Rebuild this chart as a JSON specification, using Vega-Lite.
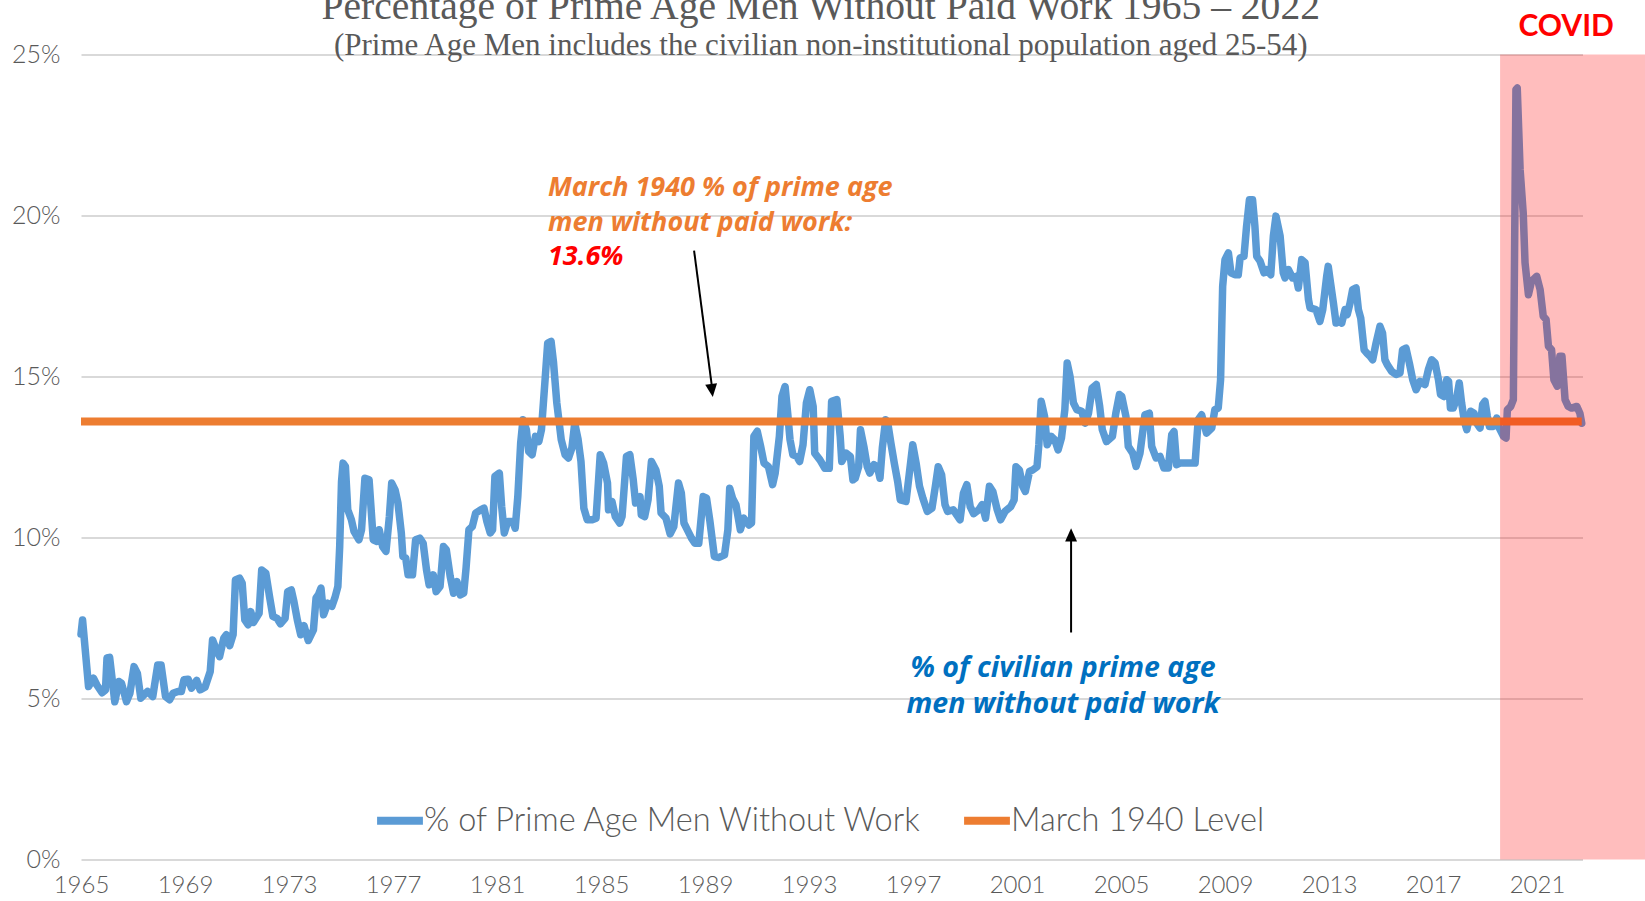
{
  "$schema": "https://vega.github.io/schema/vega-lite/v6.json",
  "width": 1501.5,
  "height": 805,
  "autosize": {"type": "none"},
  "padding": {"left": 81, "top": 54.5, "right": 62.5, "bottom": 41.5},
  "background": "white",
  "title": {
    "text": "Percentage of Prime Age Men Without Paid Work 1965 – 2022",
    "subtitle": "(Prime Age Men includes the civilian non-institutional population aged 25-54)",
    "anchor": "middle",
    "frame": "group",
    "dx": -11,
    "offset": -50,
    "font": "Liberation Serif",
    "fontSize": 39.6,
    "fontWeight": "normal",
    "color": "#595959",
    "subtitleFont": "Liberation Serif",
    "subtitleFontSize": 31,
    "subtitleColor": "#595959",
    "subtitlePadding": 3
  },
  "datasets": {
    "work": [
      {"t":1965.0,"v":7.0},{"t":1965.06,"v":7.44},{"t":1965.29,"v":5.37},{"t":1965.48,"v":5.63},{"t":1965.61,"v":5.42},{"t":1965.81,"v":5.18},{"t":1965.94,"v":5.26},{"t":1966.0,"v":6.26},{"t":1966.1,"v":6.28},{"t":1966.3,"v":4.9},{"t":1966.46,"v":5.53},{"t":1966.56,"v":5.47},{"t":1966.75,"v":4.9},{"t":1966.88,"v":5.16},{"t":1967.04,"v":5.99},{"t":1967.17,"v":5.78},{"t":1967.3,"v":5.01},{"t":1967.56,"v":5.22},{"t":1967.76,"v":5.06},{"t":1967.95,"v":6.04},{"t":1968.08,"v":6.04},{"t":1968.25,"v":5.06},{"t":1968.41,"v":4.96},{"t":1968.54,"v":5.16},{"t":1968.73,"v":5.22},{"t":1968.86,"v":5.22},{"t":1968.96,"v":5.58},{"t":1969.12,"v":5.6},{"t":1969.25,"v":5.32},{"t":1969.45,"v":5.56},{"t":1969.58,"v":5.27},{"t":1969.77,"v":5.35},{"t":1969.97,"v":5.84},{"t":1970.06,"v":6.82},{"t":1970.23,"v":6.46},{"t":1970.33,"v":6.3},{"t":1970.49,"v":6.87},{"t":1970.59,"v":6.98},{"t":1970.72,"v":6.64},{"t":1970.85,"v":6.98},{"t":1970.94,"v":8.68},{"t":1971.1,"v":8.74},{"t":1971.2,"v":8.58},{"t":1971.3,"v":7.44},{"t":1971.43,"v":7.29},{"t":1971.53,"v":7.7},{"t":1971.63,"v":7.36},{"t":1971.85,"v":7.65},{"t":1971.95,"v":8.99},{"t":1972.11,"v":8.89},{"t":1972.25,"v":8.17},{"t":1972.38,"v":7.55},{"t":1972.54,"v":7.49},{"t":1972.67,"v":7.32},{"t":1972.85,"v":7.49},{"t":1972.95,"v":8.32},{"t":1973.09,"v":8.37},{"t":1973.19,"v":8.01},{"t":1973.32,"v":7.44},{"t":1973.45,"v":6.98},{"t":1973.58,"v":7.26},{"t":1973.74,"v":6.8},{"t":1973.94,"v":7.13},{"t":1974.04,"v":8.12},{"t":1974.13,"v":8.22},{"t":1974.23,"v":8.43},{"t":1974.33,"v":7.6},{"t":1974.49,"v":7.96},{"t":1974.65,"v":7.86},{"t":1974.78,"v":8.17},{"t":1974.88,"v":8.48},{"t":1974.95,"v":9.72},{"t":1975.02,"v":11.74},{"t":1975.08,"v":12.31},{"t":1975.17,"v":12.21},{"t":1975.26,"v":10.86},{"t":1975.4,"v":10.55},{"t":1975.5,"v":10.19},{"t":1975.69,"v":9.93},{"t":1975.79,"v":10.24},{"t":1975.92,"v":11.84},{"t":1976.08,"v":11.79},{"t":1976.24,"v":9.93},{"t":1976.37,"v":9.88},{"t":1976.47,"v":10.24},{"t":1976.6,"v":9.72},{"t":1976.73,"v":9.57},{"t":1976.86,"v":10.65},{"t":1976.95,"v":11.69},{"t":1977.08,"v":11.48},{"t":1977.19,"v":11.07},{"t":1977.32,"v":10.14},{"t":1977.38,"v":9.41},{"t":1977.49,"v":9.36},{"t":1977.58,"v":8.84},{"t":1977.75,"v":8.84},{"t":1977.87,"v":9.93},{"t":1978.03,"v":9.98},{"t":1978.16,"v":9.82},{"t":1978.29,"v":8.99},{"t":1978.39,"v":8.53},{"t":1978.55,"v":8.84},{"t":1978.66,"v":8.32},{"t":1978.81,"v":8.48},{"t":1978.94,"v":9.72},{"t":1979.05,"v":9.62},{"t":1979.2,"v":8.79},{"t":1979.33,"v":8.27},{"t":1979.46,"v":8.63},{"t":1979.59,"v":8.22},{"t":1979.72,"v":8.27},{"t":1979.81,"v":9.05},{"t":1979.92,"v":10.24},{"t":1980.05,"v":10.34},{"t":1980.18,"v":10.76},{"t":1980.37,"v":10.86},{"t":1980.5,"v":10.91},{"t":1980.61,"v":10.5},{"t":1980.74,"v":10.14},{"t":1980.83,"v":10.24},{"t":1980.92,"v":11.9},{"t":1981.09,"v":12.0},{"t":1981.18,"v":10.96},{"t":1981.28,"v":10.14},{"t":1981.41,"v":10.5},{"t":1981.61,"v":10.5},{"t":1981.7,"v":10.29},{"t":1981.8,"v":11.27},{"t":1981.91,"v":12.93},{"t":1982.0,"v":13.66},{"t":1982.13,"v":13.35},{"t":1982.22,"v":12.67},{"t":1982.35,"v":12.57},{"t":1982.48,"v":13.14},{"t":1982.61,"v":12.98},{"t":1982.71,"v":13.35},{"t":1982.84,"v":14.8},{"t":1982.95,"v":16.04},{"t":1983.08,"v":16.09},{"t":1983.17,"v":15.47},{"t":1983.3,"v":14.18},{"t":1983.47,"v":13.04},{"t":1983.62,"v":12.57},{"t":1983.75,"v":12.47},{"t":1983.88,"v":12.78},{"t":1983.99,"v":13.55},{"t":1984.12,"v":13.04},{"t":1984.23,"v":12.36},{"t":1984.34,"v":10.91},{"t":1984.47,"v":10.55},{"t":1984.66,"v":10.55},
      {"t":1984.81,"v":10.6},{"t":1984.97,"v":12.57},{"t":1985.1,"v":12.31},{"t":1985.25,"v":11.69},{"t":1985.29,"v":10.86},{"t":1985.42,"v":11.12},{"t":1985.55,"v":10.65},{"t":1985.72,"v":10.45},{"t":1985.81,"v":10.65},{"t":1985.98,"v":12.52},{"t":1986.11,"v":12.57},{"t":1986.24,"v":11.79},{"t":1986.33,"v":11.07},{"t":1986.5,"v":11.27},{"t":1986.55,"v":10.7},{"t":1986.68,"v":10.65},{"t":1986.81,"v":11.17},{"t":1986.94,"v":12.36},{"t":1987.11,"v":12.1},{"t":1987.24,"v":11.59},{"t":1987.31,"v":10.76},{"t":1987.5,"v":10.6},{"t":1987.66,"v":10.11},{"t":1987.8,"v":10.34},{"t":1987.98,"v":11.69},{"t":1988.09,"v":11.38},{"t":1988.19,"v":10.45},{"t":1988.35,"v":10.19},{"t":1988.48,"v":9.98},{"t":1988.61,"v":9.82},{"t":1988.76,"v":9.82},{"t":1988.93,"v":11.27},{"t":1989.06,"v":11.22},{"t":1989.19,"v":10.5},{"t":1989.36,"v":9.41},{"t":1989.54,"v":9.38},{"t":1989.75,"v":9.46},{"t":1989.88,"v":10.24},{"t":1989.95,"v":11.53},{"t":1990.06,"v":11.22},{"t":1990.19,"v":11.02},{"t":1990.36,"v":10.24},{"t":1990.49,"v":10.6},{"t":1990.69,"v":10.39},{"t":1990.79,"v":10.45},{"t":1990.88,"v":13.14},{"t":1991.01,"v":13.3},{"t":1991.14,"v":12.83},{"t":1991.27,"v":12.31},{"t":1991.44,"v":12.2},{"t":1991.6,"v":11.64},{"t":1991.7,"v":12.0},{"t":1991.86,"v":13.14},{"t":1991.96,"v":14.38},{"t":1992.08,"v":14.69},{"t":1992.18,"v":13.86},{"t":1992.27,"v":13.04},{"t":1992.38,"v":12.57},{"t":1992.53,"v":12.52},{"t":1992.64,"v":12.36},{"t":1992.77,"v":12.88},{"t":1992.9,"v":14.18},{"t":1993.03,"v":14.59},{"t":1993.16,"v":14.07},{"t":1993.22,"v":12.62},{"t":1993.42,"v":12.41},{"t":1993.61,"v":12.15},{"t":1993.78,"v":12.15},{"t":1993.87,"v":14.23},{"t":1994.07,"v":14.28},{"t":1994.2,"v":13.14},{"t":1994.26,"v":12.36},{"t":1994.43,"v":12.62},{"t":1994.59,"v":12.52},{"t":1994.69,"v":11.79},{"t":1994.78,"v":11.84},{"t":1994.91,"v":12.2},{"t":1994.98,"v":13.35},{"t":1995.11,"v":12.83},{"t":1995.24,"v":12.2},{"t":1995.34,"v":12.0},{"t":1995.5,"v":12.26},{"t":1995.63,"v":12.2},{"t":1995.73,"v":11.84},{"t":1995.82,"v":12.78},{"t":1995.95,"v":13.66},{"t":1996.04,"v":13.5},{"t":1996.15,"v":12.93},{"t":1996.28,"v":12.31},{"t":1996.41,"v":11.74},{"t":1996.51,"v":11.17},{"t":1996.73,"v":11.12},{"t":1996.86,"v":12.0},{"t":1996.99,"v":12.88},{"t":1997.12,"v":12.31},{"t":1997.25,"v":11.59},{"t":1997.38,"v":11.22},{"t":1997.55,"v":10.81},{"t":1997.73,"v":10.91},{"t":1997.86,"v":11.59},{"t":1997.97,"v":12.2},{"t":1998.1,"v":11.95},{"t":1998.23,"v":11.02},{"t":1998.33,"v":10.81},{"t":1998.55,"v":10.86},{"t":1998.68,"v":10.7},{"t":1998.81,"v":10.55},{"t":1998.94,"v":11.38},{"t":1999.07,"v":11.64},{"t":1999.2,"v":10.96},{"t":1999.33,"v":10.74},{"t":1999.53,"v":10.86},{"t":1999.66,"v":11.02},{"t":1999.79,"v":10.6},{"t":1999.94,"v":11.59},{"t":2000.07,"v":11.43},{"t":2000.24,"v":10.86},{"t":2000.37,"v":10.55},{"t":2000.54,"v":10.81},{"t":2000.76,"v":10.96},{"t":2000.89,"v":11.17},{"t":2000.96,"v":12.2},{"t":2001.09,"v":12.1},{"t":2001.22,"v":11.59},{"t":2001.32,"v":11.43},{"t":2001.48,"v":12.05},{"t":2001.61,"v":12.1},{"t":2001.77,"v":12.2},{"t":2001.84,"v":12.88},{"t":2001.93,"v":14.23},{"t":2002.06,"v":13.76},{"t":2002.16,"v":12.88},{"t":2002.32,"v":13.14},{"t":2002.45,"v":13.04},{"t":2002.58,"v":12.72},{"t":2002.71,"v":13.09},{"t":2002.84,"v":13.97},{"t":2002.93,"v":15.42},{"t":2003.04,"v":15.0},{"t":2003.17,"v":14.18},{"t":2003.3,"v":13.97},{"t":2003.49,"v":13.92},{"t":2003.62,"v":13.55},{"t":2003.75,"v":13.86},{"t":2003.89,"v":14.64},{"t":2004.05,"v":14.75},{"t":2004.18,"v":14.07},{"t":2004.28,"v":13.35},{"t":2004.44,"v":12.98},{"t":2004.67,"v":13.14},{"t":2004.8,"v":13.86},
      {"t":2004.94,"v":14.44},{"t":2005.03,"v":14.38},{"t":2005.19,"v":13.76},{"t":2005.28,"v":12.83},{"t":2005.45,"v":12.62},{"t":2005.58,"v":12.21},{"t":2005.73,"v":12.62},{"t":2005.92,"v":13.81},{"t":2006.09,"v":13.86},{"t":2006.18,"v":12.83},{"t":2006.35,"v":12.47},{"t":2006.5,"v":12.52},{"t":2006.65,"v":12.16},{"t":2006.82,"v":12.16},{"t":2006.95,"v":13.19},{"t":2007.04,"v":13.29},{"t":2007.14,"v":12.26},{"t":2007.27,"v":12.31},{"t":2007.53,"v":12.31},{"t":2007.85,"v":12.31},{"t":2007.97,"v":13.66},{"t":2008.1,"v":13.81},{"t":2008.29,"v":13.24},{"t":2008.49,"v":13.4},{"t":2008.61,"v":13.97},{"t":2008.74,"v":14.02},{"t":2008.83,"v":14.9},{"t":2008.91,"v":17.8},{"t":2009.0,"v":18.63},{"t":2009.13,"v":18.84},{"t":2009.23,"v":18.22},{"t":2009.38,"v":18.16},{"t":2009.51,"v":18.16},{"t":2009.58,"v":18.68},{"t":2009.73,"v":18.73},{"t":2009.83,"v":19.67},{"t":2009.94,"v":20.49},{"t":2010.06,"v":20.49},{"t":2010.15,"v":19.67},{"t":2010.22,"v":18.73},{"t":2010.35,"v":18.58},{"t":2010.5,"v":18.22},{"t":2010.6,"v":18.32},{"t":2010.76,"v":18.16},{"t":2010.86,"v":19.36},{"t":2010.96,"v":19.98},{"t":2011.12,"v":19.36},{"t":2011.24,"v":18.22},{"t":2011.31,"v":18.06},{"t":2011.44,"v":18.32},{"t":2011.6,"v":18.06},{"t":2011.73,"v":18.11},{"t":2011.82,"v":17.75},{"t":2011.95,"v":18.63},{"t":2012.08,"v":18.53},{"t":2012.21,"v":17.39},{"t":2012.27,"v":17.13},{"t":2012.5,"v":17.08},{"t":2012.65,"v":16.71},{"t":2012.76,"v":17.08},{"t":2012.91,"v":18.11},{"t":2012.97,"v":18.42},{"t":2013.06,"v":17.9},{"t":2013.17,"v":17.28},{"t":2013.27,"v":16.66},{"t":2013.4,"v":16.71},{"t":2013.49,"v":16.66},{"t":2013.62,"v":17.08},{"t":2013.7,"v":16.92},{"t":2013.81,"v":17.28},{"t":2013.91,"v":17.7},{"t":2014.04,"v":17.75},{"t":2014.13,"v":17.08},{"t":2014.22,"v":16.82},{"t":2014.35,"v":15.83},{"t":2014.45,"v":15.73},{"t":2014.58,"v":15.63},{"t":2014.68,"v":15.52},{"t":2014.81,"v":16.04},{"t":2014.96,"v":16.56},{"t":2015.06,"v":16.35},{"t":2015.15,"v":15.52},{"t":2015.24,"v":15.37},{"t":2015.41,"v":15.16},{"t":2015.58,"v":15.06},{"t":2015.73,"v":15.11},{"t":2015.83,"v":15.83},{"t":2015.96,"v":15.88},{"t":2016.09,"v":15.42},{"t":2016.22,"v":14.9},{"t":2016.35,"v":14.59},{"t":2016.5,"v":14.85},{"t":2016.69,"v":14.75},{"t":2016.82,"v":15.21},{"t":2016.95,"v":15.52},{"t":2017.08,"v":15.42},{"t":2017.21,"v":14.9},{"t":2017.29,"v":14.44},{"t":2017.42,"v":14.38},{"t":2017.53,"v":14.9},{"t":2017.6,"v":14.85},{"t":2017.67,"v":14.02},{"t":2017.78,"v":14.02},{"t":2017.91,"v":14.33},{"t":2018.01,"v":14.8},{"t":2018.1,"v":14.18},{"t":2018.21,"v":13.6},{"t":2018.3,"v":13.35},{"t":2018.45,"v":13.92},{"t":2018.58,"v":13.86},{"t":2018.68,"v":13.55},{"t":2018.81,"v":13.4},{"t":2018.91,"v":14.13},{"t":2019.0,"v":14.23},{"t":2019.09,"v":13.76},{"t":2019.17,"v":13.45},{"t":2019.32,"v":13.45},{"t":2019.45,"v":13.71},{"t":2019.55,"v":13.4},{"t":2019.71,"v":13.14},{"t":2019.81,"v":13.09},{"t":2019.86,"v":13.97},{"t":2019.99,"v":14.07},{"t":2020.09,"v":14.28},{"t":2020.19,"v":23.91},{"t":2020.24,"v":23.96},{"t":2020.35,"v":21.43},{"t":2020.47,"v":20.08},{"t":2020.54,"v":18.53},{"t":2020.67,"v":17.54},{"t":2020.79,"v":17.96},{"t":2020.99,"v":18.11},{"t":2021.12,"v":17.7},{"t":2021.24,"v":16.87},{"t":2021.35,"v":16.77},{"t":2021.44,"v":15.94},{"t":2021.56,"v":15.83},{"t":2021.65,"v":14.9},{"t":2021.78,"v":14.7},{"t":2021.88,"v":15.63},{"t":2021.96,"v":15.63},{"t":2022.08,"v":14.28},{"t":2022.2,"v":14.07},{"t":2022.33,"v":14.02},{"t":2022.53,"v":14.07},{"t":2022.65,"v":13.86},{"t":2022.72,"v":13.55}
    ],
    "level": [{"t":1965.0,"v":13.6},{"t":2022.72,"v":13.6}],
    "covid": [{"t":2019.58,"t2":2025.6,"v":0,"v2":25}],
    "orangeText": [
      {"t":1982.96,"v":20.6,"label":"March 1940 % of prime age"},
      {"t":1982.96,"v":19.53,"label":"men without paid work:"}
    ],
    "redText": [{"t":1982.96,"v":18.47,"label":"13.6%"}],
    "blueText": [
      {"t":2002.77,"v":5.68,"label":"% of  civilian prime age"},
      {"t":2002.77,"v":4.54,"label":"men without paid work"}
    ],
    "covidText": [{"t":2022.12,"v":25.59,"label":"COVID"}],
    "arrows": [
      {"t":1988.58,"v":18.91,"t2":1989.28,"v2":14.6},
      {"t":2003.08,"v":7.05,"t2":2003.08,"v2":10.0}
    ],
    "head1": [{"t":1989.3,"v":14.36}],
    "head2": [{"t":2003.08,"v":10.29}]
  },
  "layer": [
    {
      "data": {"name": "work"},
      "mark": {"type": "line", "strokeWidth": 7.5, "strokeCap": "round", "strokeJoin": "round"},
      "encoding": {
        "x": {"field": "t", "type": "quantitative",
          "scale": {"domain": [1965, 2022.75], "nice": false, "zero": false},
          "axis": {"values": [1965,1969,1973,1977,1981,1985,1989,1993,1997,2001,2005,2009,2013,2017,2021],
            "format": "d", "title": null, "grid": false, "domain": false, "ticks": false,
            "labelFlush": false, "labelOverlap": false, "labelBound": false,
            "labelFont": "Lato", "labelFontWeight": 300, "labelFontSize": 24, "labelColor": "#595959", "labelPadding": 14}},
        "y": {"field": "v", "type": "quantitative",
          "scale": {"domain": [0, 25], "nice": false, "zero": true},
          "axis": {"values": [0,5,10,15,20,25], "labelExpr": "datum.value + '%'", "title": null,
            "grid": true, "gridColor": "#D9D9D9", "gridWidth": 2, "domain": false, "ticks": false,
            "labelFont": "Lato", "labelFontWeight": 300, "labelFontSize": 25, "labelColor": "#595959", "labelPadding": 21}},
        "color": {"datum": "% of Prime Age Men Without Work", "type": "nominal",
          "scale": {"domain": ["% of Prime Age Men Without Work", "March 1940 Level"], "range": ["#5B9BD5", "#ED7D31"]},
          "legend": {"orient": "none", "legendX": 292, "legendY": 739, "direction": "horizontal", "title": null,
            "symbolType": "stroke", "symbolStrokeWidth": 8, "symbolSize": 2100,
            "labelFont": "Lato", "labelFontWeight": 300, "labelFontSize": 32.5, "labelColor": "#595959",
            "labelOffset": -3, "columnPadding": 25, "labelLimit": 1000}}
      }
    },
    {
      "data": {"name": "level"},
      "mark": {"type": "line", "strokeWidth": 8},
      "encoding": {
        "x": {"field": "t", "type": "quantitative"},
        "y": {"field": "v", "type": "quantitative"},
        "color": {"datum": "March 1940 Level", "type": "nominal"}
      }
    },
    {
      "data": {"name": "covid"},
      "mark": {"type": "rect", "color": "#FF0000", "opacity": 0.26},
      "encoding": {
        "x": {"field": "t", "type": "quantitative"},
        "x2": {"field": "t2"},
        "y": {"field": "v", "type": "quantitative"},
        "y2": {"field": "v2"}
      }
    },
    {
      "data": {"name": "arrows"},
      "mark": {"type": "rule", "color": "black", "strokeWidth": 2},
      "encoding": {
        "x": {"field": "t", "type": "quantitative"},
        "y": {"field": "v", "type": "quantitative"},
        "x2": {"field": "t2"},
        "y2": {"field": "v2"}
      }
    },
    {
      "data": {"name": "head1"},
      "mark": {"type": "point", "shape": "M0,0L-0.45,-1L0.45,-1Z", "filled": true, "color": "black", "opacity": 1, "size": 700, "angle": 352.7},
      "encoding": {
        "x": {"field": "t", "type": "quantitative"},
        "y": {"field": "v", "type": "quantitative"}
      }
    },
    {
      "data": {"name": "head2"},
      "mark": {"type": "point", "shape": "M0,0L-0.45,-1L0.45,-1Z", "filled": true, "color": "black", "opacity": 1, "size": 700, "angle": 180},
      "encoding": {
        "x": {"field": "t", "type": "quantitative"},
        "y": {"field": "v", "type": "quantitative"}
      }
    },
    {
      "data": {"name": "orangeText"},
      "mark": {"type": "text", "align": "left", "baseline": "alphabetic", "font": "Open Sans", "fontWeight": "bold", "fontStyle": "italic", "fontSize": 27, "color": "#ED7D31"},
      "encoding": {
        "x": {"field": "t", "type": "quantitative"},
        "y": {"field": "v", "type": "quantitative"},
        "text": {"field": "label"}
      }
    },
    {
      "data": {"name": "redText"},
      "mark": {"type": "text", "align": "left", "baseline": "alphabetic", "font": "Open Sans", "fontWeight": "bold", "fontStyle": "italic", "fontSize": 27, "color": "#FF0000"},
      "encoding": {
        "x": {"field": "t", "type": "quantitative"},
        "y": {"field": "v", "type": "quantitative"},
        "text": {"field": "label"}
      }
    },
    {
      "data": {"name": "blueText"},
      "mark": {"type": "text", "align": "center", "baseline": "alphabetic", "font": "Open Sans", "fontWeight": "bold", "fontStyle": "italic", "fontSize": 28.5, "color": "#0070C0"},
      "encoding": {
        "x": {"field": "t", "type": "quantitative"},
        "y": {"field": "v", "type": "quantitative"},
        "text": {"field": "label"}
      }
    },
    {
      "data": {"name": "covidText"},
      "mark": {"type": "text", "align": "center", "baseline": "alphabetic", "font": "Liberation Sans Narrow, Lato", "fontWeight": "bold", "fontSize": 30, "color": "#FF0000"},
      "encoding": {
        "x": {"field": "t", "type": "quantitative"},
        "y": {"field": "v", "type": "quantitative"},
        "text": {"field": "label"}
      }
    }
  ],
  "config": {
    "view": {"stroke": null},
    "font": "Lato"
  }
}
